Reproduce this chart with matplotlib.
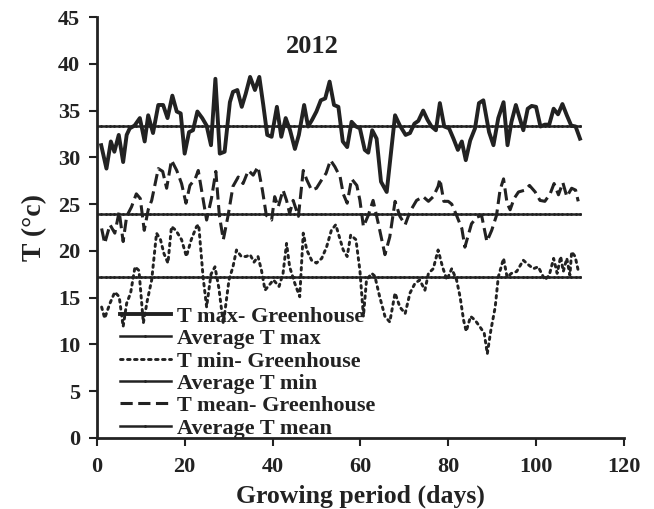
import numpy as np
import matplotlib
matplotlib.use('Agg')
import matplotlib.pyplot as plt

# 온실 일별 기온 (2012) - 그림에서 읽은 값
tmax_days = [1, 2.2, 3.2, 4, 5, 6, 6.8, 7.5, 8.6, 9.8, 10.9, 11.7, 12.8, 14, 15.1, 16.1, 17.2,
             18.2, 19.1, 20, 21, 21.9, 22.9, 24, 25, 26, 27, 28, 29.1, 30.3, 31, 32, 33, 33.9,
             34.9, 36, 37, 37.9, 38.8, 39.8, 41, 42, 43, 44, 45.1, 46, 47.2, 48.1, 49, 50, 51,
             52, 53, 54, 55, 56, 57, 58, 59, 59.9, 61, 61.8, 62.7, 63.7, 64.7, 66, 67.9, 69,
             70.3, 71.3, 72.3, 73.2, 74.3, 75.3, 76.2, 77.2, 78.1, 79.1, 80.2, 81.2, 82.2, 83.1,
             84, 85, 86.1, 87, 88, 89.3, 90.3, 91.4, 92.6, 93.5, 94.4, 95.4, 96.4, 97.1, 98.1,
             99, 100, 101, 102, 103, 104, 105, 106, 107, 108, 109, 110]
tmax = [31.3, 28.8, 31.7, 30.6, 32.4, 29.5, 32.4, 33.1, 33.4, 34.2, 31.7, 34.5, 32.6, 35.6, 35.6,
        34.2, 36.6, 34.9, 34.7, 30.4, 32.7, 32.9, 34.9, 34.2, 33.4, 31.3, 38.4, 30.4, 30.6, 35.9,
        37.0, 37.2, 35.4, 36.8, 38.6, 37.2, 38.6, 35.6, 32.4, 32.2, 35.4, 32.2, 34.2, 32.9, 30.9,
        32.4, 35.6, 33.3, 34.0, 34.9, 36.1, 36.3, 38.1, 35.6, 35.4, 31.7, 31.1, 33.8, 33.3, 33.1,
        30.8, 30.5, 32.9, 32.0, 27.4, 26.3, 34.5, 33.4, 32.4, 32.6, 33.6, 33.9, 35.0, 34.0, 33.3,
        32.9, 35.8, 33.3, 33.1, 32.0, 30.8, 31.7, 29.7, 31.8, 33.1, 35.8, 36.1, 32.7, 31.3, 34.2,
        35.9, 31.3, 33.8, 35.6, 34.0, 32.9, 35.2, 35.5, 35.4, 33.3, 33.5, 33.5, 35.2, 34.6, 35.7,
        34.5, 33.4, 33.3, 32.0]

tmean_days = [1.1, 1.8, 3, 4.1, 5.1, 6, 6.8, 7.9, 9, 9.9, 10.8, 11.7, 12.5, 14, 15, 15.9, 17,
              18.2, 19.3, 20.3, 21.2, 22.4, 23.1, 24.1, 25, 26.1, 27.1, 27.9, 28.8, 29.9, 31,
              32.2, 33.3, 34.5, 35.6, 36.7, 37.7, 38.6, 39.8, 40.5, 41.3, 42.4, 43.2, 43.9, 44.7,
              45.9, 47, 47.8, 48.9, 50, 51.2, 52.2, 53.2, 54.2, 55.4, 56.1, 57, 58, 59.2, 59.9,
              60.7, 61.8, 62.9, 64.1, 65.6, 66.7, 67.9, 69, 70.2, 71.3, 72.8, 74.3, 75.5, 76.6,
              77.7, 78.1, 79, 80, 80.8, 81.9, 83.1, 83.8, 85.3, 86.5, 87.6, 88.8, 89.9, 91, 91.8,
              92.6, 93.4, 94.1, 95, 96, 97.5, 98.5, 99.8, 100.9, 102, 103.2, 104.1, 105.1, 106.1,
              107, 108.1, 109, 109.6]
tmean = [22.4, 20.8, 22.8, 21.9, 24.2, 21.0, 23.7, 24.7, 26.1, 25.6, 22.2, 24.4, 25.4, 28.8,
         28.5, 26.7, 29.7, 28.6, 27.2, 25.1, 27.0, 27.7, 28.6, 25.8, 23.3, 25.6, 28.5, 23.8, 21.2,
         23.8, 26.9, 27.9, 27.2, 28.6, 28.1, 29.0, 26.5, 23.8, 23.3, 25.8, 24.7, 26.5, 25.4, 24.0,
         25.4, 23.7, 28.6, 27.6, 26.5, 26.7, 27.6, 28.3, 29.7, 29.0, 27.9, 26.1, 25.1, 27.7, 27.0,
         25.4, 22.6, 23.8, 25.4, 22.9, 19.6, 21.5, 25.3, 23.7, 22.8, 24.2, 25.4, 25.8, 25.3, 25.8,
         26.9, 27.7, 25.3, 25.3, 25.0, 23.8, 22.4, 20.4, 22.9, 23.6, 23.8, 21.0, 22.2, 23.8, 26.5,
         27.7, 25.1, 24.4, 25.6, 26.3, 26.5, 27.0, 26.3, 25.4, 25.3, 26.1, 27.2, 26.0, 27.3, 25.8,
         26.7, 26.5, 25.3]

tmin_days = [1.1, 1.8, 3, 4.1, 5.1, 6, 6.8, 7.7, 8.7, 9.6, 10.6, 11.5, 12.5, 13.6, 14.5, 15.3,
             16.2, 17, 18, 19.3, 20.4, 21.5, 22.7, 23.2, 24.2, 25, 26, 26.9, 27.8, 28.8, 30.1,
             31, 31.8, 32.9, 34, 34.9, 35.8, 36.7, 37.5, 38.3, 39, 40.2, 41.5, 42.4, 43.2, 43.9,
             45.1, 46.2, 47, 47.8, 48.9, 50, 51.2, 52.3, 53.4, 54.4, 55.4, 56.1, 57, 57.8, 59,
             59.9, 60.7, 61.4, 62.6, 63.3, 64.4, 65.6, 66.7, 67.9, 69, 70.2, 71.3, 72.4, 73.5,
             74.7, 75.5, 76.6, 77.7, 78.7, 79.7, 80.8, 81.9, 82.7, 83.5, 84.1, 85.1, 86.1, 87.2,
             88.2, 88.9, 89.7, 90.7, 91.4, 92.6, 93.4, 94.4, 95.6, 97.1, 98.3, 99.4, 100.5, 102,
             103, 104, 104.8, 105.6, 106.2, 107, 107.7, 108.1, 108.9, 109.6]
tmin = [14.0, 12.8, 14.4, 15.6, 15.1, 11.9, 14.4, 15.5, 18.3, 17.9, 12.3, 14.7, 16.9, 21.9, 21.2,
        19.7, 18.7, 22.6, 22.2, 21.2, 19.4, 21.2, 22.6, 22.8, 17.2, 14.0, 17.5, 18.3, 16.0, 12.2,
        16.9, 18.3, 20.1, 19.4, 19.4, 19.6, 18.8, 19.4, 17.9, 15.8, 16.2, 16.9, 16.2, 17.6, 20.8,
        18.3, 16.5, 15.1, 21.9, 20.1, 19.0, 18.7, 19.2, 20.4, 22.2, 22.8, 21.2, 20.1, 19.4, 21.7,
        21.2, 17.9, 13.0, 16.9, 17.6, 17.3, 15.1, 13.0, 12.4, 15.5, 14.0, 13.3, 15.5, 16.5, 16.9,
        15.8, 17.6, 18.1, 20.1, 18.3, 16.9, 18.1, 16.9, 15.1, 12.6, 11.4, 13.0, 12.6, 11.9, 11.2,
        9.0, 11.5, 14.0, 17.2, 19.2, 17.2, 17.6, 17.8, 19.0, 18.5, 18.1, 18.3, 16.9, 17.4, 19.2,
        17.6, 19.4, 17.8, 19.2, 17.4, 19.9, 19.4, 17.9]

# 기간 평균
avg_days = np.arange(0, 111)
avg_tmax = 33.4
avg_tmin = 17.2
avg_tmean = 23.9

plt.rcParams['font.family'] = ['Liberation Serif', 'DejaVu Serif']
plt.rcParams['font.weight'] = 'bold'

fig = plt.figure(figsize=(6.54, 5.09), dpi=100)
ax = fig.add_axes([0.148, 0.1395, 0.806, 0.827])

c = '#222222'
ax.plot(tmax_days, tmax, color=c, linewidth=2.8, label='T max- Greenhouse')
ax.plot(avg_days, np.full(len(avg_days), avg_tmax), color=c, linewidth=1.8,
        marker='.', markersize=2, label='Average T max')
ax.plot(tmin_days, tmin, color=c, linewidth=2.1, linestyle=(0, (0.9, 1.5)),
        dash_capstyle='round', label='T min- Greenhouse')
ax.plot(avg_days, np.full(len(avg_days), avg_tmin), color=c, linewidth=1.8,
        marker='.', markersize=2, label='Average T min')
ax.plot(tmean_days, tmean, color=c, linewidth=2.2, linestyle=(0, (4, 1.8)),
        label='T mean- Greenhouse')
ax.plot(avg_days, np.full(len(avg_days), avg_tmean), color=c, linewidth=1.8,
        marker='.', markersize=2, label='Average T mean')

ax.set_xlim(0, 120)
ax.set_ylim(0, 45)
ax.set_xticks(np.arange(0, 121, 20))
ax.set_yticks(np.arange(0, 46, 5))
ax.tick_params(direction='out', length=6, width=1.5, labelsize=16, colors=c)
ax.tick_params(axis='x', pad=8)
ax.tick_params(axis='y', pad=6)
for s in ['top', 'right']:
    ax.spines[s].set_visible(False)
for s in ['left', 'bottom']:
    ax.spines[s].set_linewidth(2)
    ax.spines[s].set_color(c)

ax.text(49, 41.8, '2012', fontsize=19, fontweight='bold', ha='center', va='center', color=c)
ax.set_xlabel('Growing period (days)', fontsize=18.5, fontweight='bold', color=c, labelpad=5)
ax.set_ylabel('T (°c)', fontsize=20, fontweight='bold', color=c, labelpad=8)

leg = ax.legend(loc='lower left', bbox_to_anchor=(0.035, -0.012), frameon=False,
                prop={'size': 16, 'weight': 'bold'}, handlelength=2.3, labelspacing=0.08,
                handletextpad=0.28, borderpad=0.2, borderaxespad=0)
for t in leg.get_texts():
    t.set_color(c)

plt.savefig('out.png', dpi=100)
